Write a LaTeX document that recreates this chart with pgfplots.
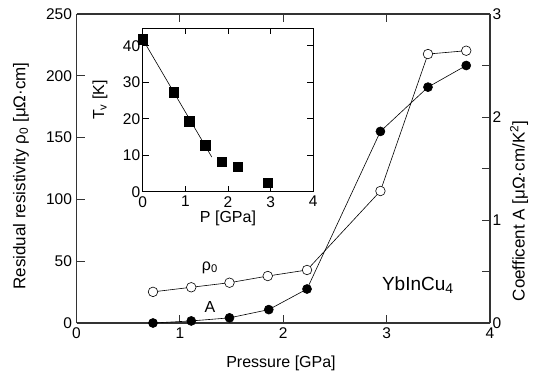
\documentclass[border=0pt]{standalone}
\usepackage{pgfplots}
\pgfplotsset{compat=1.18}
\usepackage{fontspec}
\setmainfont{Liberation Sans}
\begin{document}
\begin{tikzpicture}[x=1pt,y=1pt]
\path[use as bounding box] (0,0) rectangle (533,376);
\pgfplotsset{
  every axis/.append style={font=\fontsize{15.5}{18}\selectfont, /pgf/number format/assume math mode=true},
}
% main axis (left: rho0)
\begin{axis}[
  at={(76.5pt,53pt)}, anchor=south west, width=413.5pt, height=309pt, scale only axis,
  xmin=0,xmax=4,ymin=0,ymax=250,
  axis y line*=left,
  xtick={0,1,2,3,4}, ytick={0,50,...,250},
  tick align=inside, major tick length=8pt,
  axis line style={line width=1.3pt, black!80},
  every tick/.style={black!80, line width=1pt},
  xticklabel style={yshift=-1pt},
  yticklabel style={xshift=-1pt},
  clip=false,
]
\addplot[black, line width=0.6pt, mark=*, mark size=4.8pt, mark options={fill=white, line width=0.6pt}] coordinates {
(0.74,25.2)(1.11,28.9)(1.48,32.6)(1.85,38.0)(2.23,42.9)(2.94,106.8)(3.40,217.6)(3.77,220.3)};
\node[font=\fontsize{16}{18}\selectfont] at (axis cs:1.29,45) {ρ\textsubscript{0}};
\node[font=\fontsize{16}{18}\selectfont] at (axis cs:1.29,13.2) {A};
\node[font=\fontsize{19}{22}\selectfont] at (axis cs:3.30,30.7) {YbInCu\raisebox{-0.35ex}{\fontsize{14}{16}\selectfont 4}};
\end{axis}
% right axis (A)
\begin{axis}[
  at={(76.5pt,53pt)}, anchor=south west, width=413.5pt, height=309pt, scale only axis,
  xmin=0,xmax=4,ymin=0,ymax=3,
  axis y line*=right, axis x line=none,
  ytick={0,0.5,...,3}, yticklabels={0,{},1,{},2,{},3},
  tick align=inside, major tick length=8pt,
  axis line style={line width=1.3pt, black!80},
  every tick/.style={black!80, line width=1pt},
  yticklabel style={xshift=-1pt},
  clip=false,
]
\addplot[black, line width=0.6pt, mark=*, mark size=4.5pt] coordinates {
(0.74,0.0)(1.11,0.02)(1.48,0.05)(1.86,0.13)(2.23,0.33)(2.94,1.86)(3.40,2.29)(3.77,2.50)};
\end{axis}
% inset
\begin{axis}[
  at={(142.7pt,184.3pt)}, anchor=south west, width=170.6pt, height=163.4pt, scale only axis,
  xmin=0,xmax=4,ymin=0,ymax=44.8,
  xtick={0,1,2,3,4}, ytick={0,10,...,40},
  tick align=inside, major tick length=6pt,
  axis line style={line width=0.9pt, black},
  every tick/.style={black, line width=0.8pt},
  xticklabel style={yshift=-1pt},
  yticklabel style={xshift=1pt},
  axis background/.style={fill=white},
  clip=false,
]
\addplot[black, line width=0.6pt, no marks] coordinates {(0,41.8)(1.62,9.5)};
\addplot[black, only marks, mark=square*, mark size=4.8pt] coordinates {
(0,41.8)(0.73,27.3)(1.09,19.4)(1.47,12.8)(1.85,8.2)(2.23,6.9)(2.93,2.5)};
\end{axis}
% labels
\node[font=\fontsize{16}{18}\selectfont] at (281,13) {Pressure [GPa]};
\node[font=\fontsize{17}{19}\selectfont, rotate=90] at (21,200) {Residual resistivity ρ\textsubscript{0} [μΩ·cm]};
\node[font=\fontsize{17}{19}\selectfont, rotate=90] at (519,165) {Coefficent A [μΩ·cm/K\textsuperscript{2}]};
\node[font=\fontsize{16}{18}\selectfont, rotate=90] at (100,276) {T\textsubscript{v} [K]};
\node[font=\fontsize{16}{18}\selectfont] at (228,157.5) {P [GPa]};
\end{tikzpicture}
\end{document}
